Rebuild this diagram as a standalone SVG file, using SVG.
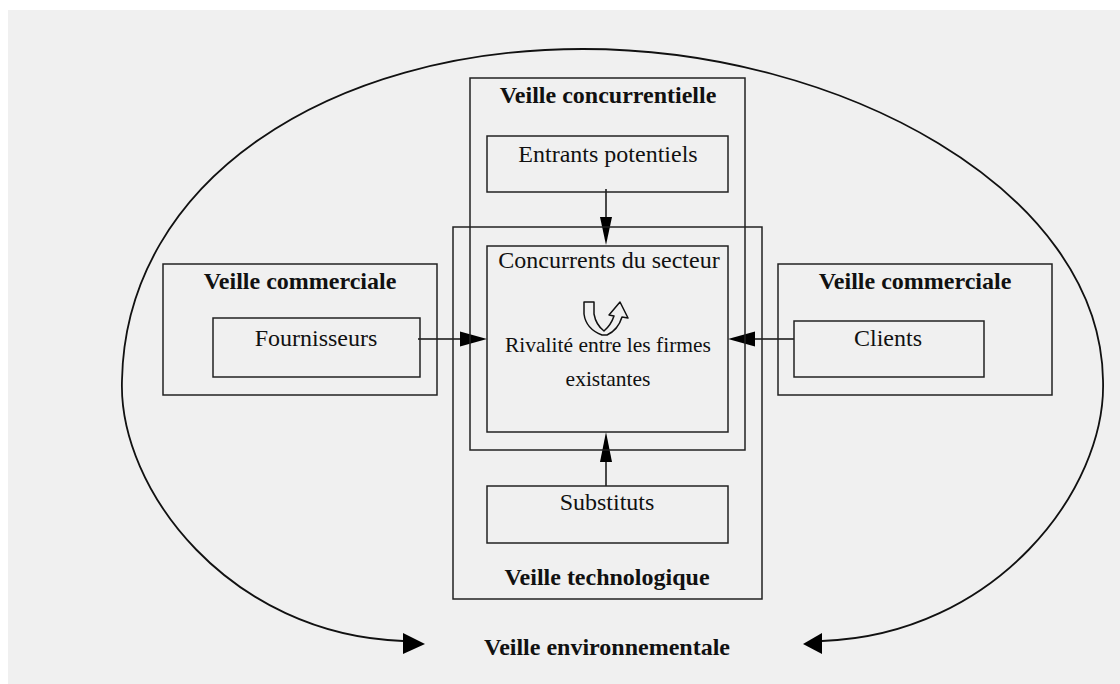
<svg xmlns="http://www.w3.org/2000/svg" width="1120" height="684" viewBox="0 0 1120 684">
<style>
.box{fill:none;stroke:#222;stroke-width:1.5}
.ln{fill:none;stroke:#111;stroke-width:1.5}
.env{fill:none;stroke:#111;stroke-width:1.8}
.t{font-family:"Liberation Serif","Times New Roman",serif;font-size:24px;fill:#111;text-anchor:middle}
.b{font-weight:bold}
.ah{fill:#000}
</style>
<rect x="0" y="0" width="1120" height="684" fill="#ffffff"/>
<rect x="8" y="10" width="1112" height="674" fill="#f0f0f0"/>

<g id="connectors">
<path class="env" d="M403 641 C230 635 118 490 122 380 C126 180 330 49 583 49 C840 49 1100 190 1103 380 C1107 490 995 635 822 641"/>
<polygon class="ah" points="403,633 425,644 403,654"/>
<polygon class="ah" points="822,633 803,644 822,654"/>
<line class="ln" x1="606" y1="189" x2="606" y2="220"/>
<polygon class="ah" points="600,217 612,217 606,245"/>
<line class="ln" x1="606" y1="486" x2="606" y2="460"/>
<polygon class="ah" points="600,462 612,462 606,432"/>
<line class="ln" x1="418" y1="339" x2="462" y2="339"/>
<polygon class="ah" points="460,331.5 460,346.5 487,339"/>
<line class="ln" x1="794" y1="339" x2="752" y2="339"/>
<polygon class="ah" points="755,331.5 755,346.5 728,339"/>
</g>

<g id="veille-concurrentielle">
<rect class="box" x="470" y="78" width="275" height="372"/>
<text class="t b" x="608" y="103">Veille concurrentielle</text>
</g>
<g id="veille-technologique">
<rect class="box" x="453" y="227" width="309" height="372"/>
<text class="t b" x="607" y="585">Veille technologique</text>
</g>
<g id="entrants">
<rect class="box" x="487" y="136" width="241" height="56"/>
<text class="t" x="608" y="162">Entrants potentiels</text>
</g>
<g id="concurrents">
<rect class="box" x="487" y="246" width="241" height="186"/>
<text class="t" x="609" y="268">Concurrents du secteur</text>
<path d="M584 302 L594 302 L594 314 Q596 325 604 331 Q611 325 614 316 L609 315 L620 302 L628 318 L622 317 Q618 330 607 335 L602 335 Q586 329 584 314 Z" fill="#f0f0f0" stroke="#111" stroke-width="1.5" stroke-linejoin="round"/>
<text class="t" x="608" y="352" style="font-size:21.5px">Rivalité entre les firmes</text>
<text class="t" x="608" y="386" style="font-size:21.5px">existantes</text>
</g>
<g id="substituts">
<rect class="box" x="487" y="486" width="241" height="57"/>
<text class="t" x="607" y="510">Substituts</text>
</g>
<g id="veille-commerciale-gauche">
<rect class="box" x="163" y="264" width="274" height="131"/>
<text class="t b" x="300" y="289">Veille commerciale</text>
</g>
<g id="fournisseurs">
<rect class="box" x="213" y="318" width="207" height="59"/>
<text class="t" x="316" y="346">Fournisseurs</text>
</g>
<g id="veille-commerciale-droite">
<rect class="box" x="778" y="264" width="274" height="131"/>
<text class="t b" x="915" y="289">Veille commerciale</text>
</g>
<g id="clients">
<rect class="box" x="794" y="321" width="190" height="56"/>
<text class="t" x="888" y="346">Clients</text>
</g>
<g id="veille-environnementale">
<text class="t b" x="607" y="655">Veille environnementale</text>
</g>
</svg>
